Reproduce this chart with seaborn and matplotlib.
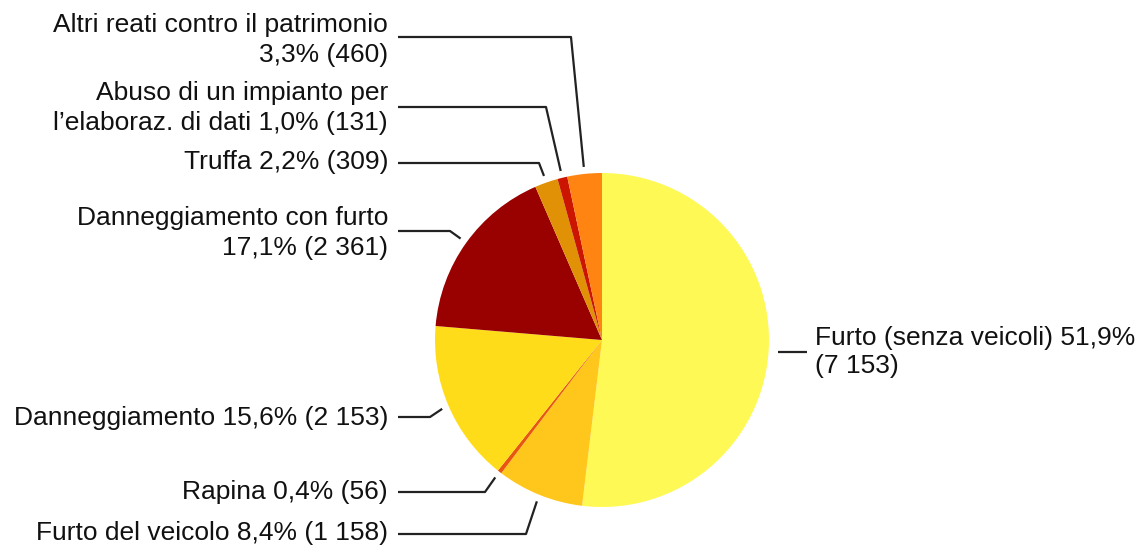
import matplotlib

matplotlib.use("Agg")
import matplotlib.pyplot as plt
import numpy as np
import seaborn as sns

# dati (conteggi e percentuali come nel grafico)
categories = [
    "Furto (senza veicoli)",
    "Furto del veicolo",
    "Rapina",
    "Danneggiamento",
    "Danneggiamento con furto",
    "Truffa",
    "Abuso di un impianto per\nl'elaboraz. di dati",
    "Altri reati contro il patrimonio",
]
counts = [7153, 1158, 56, 2153, 2361, 309, 131, 460]
percent_labels = ["51,9%", "8,4%", "0,4%", "15,6%", "17,1%", "2,2%", "1,0%", "3,3%"]
count_labels = ["7 153", "1 158", "56", "2 153", "2 361", "309", "131", "460"]
label_texts = [
    "Furto (senza veicoli) 51,9%\n(7 153)",
    "Furto del veicolo 8,4% (1 158)",
    "Rapina 0,4% (56)",
    "Danneggiamento 15,6% (2 153)",
    "Danneggiamento con furto\n17,1% (2 361)",
    "Truffa 2,2% (309)",
    "Abuso di un impianto per\nl\u2019elaboraz. di dati 1,0% (131)",
    "Altri reati contro il patrimonio\n3,3% (460)",
]
colors = ["#FFF955", "#FFC61C", "#E8550E", "#FFDC1A", "#990000", "#E19106", "#CC1500", "#FF8412"]

sns.set_theme(style="white")
plt.rcParams["font.family"] = ["Liberation Sans", "DejaVu Sans"]

W, H = 1144, 549
fig = plt.figure(figsize=(W / 100, H / 100), dpi=100)
ax = fig.add_axes([0, 0, 1, 1])


def py(y):
    # converte y in pixel (dall'alto) in coordinate dati
    return H - y


cx, cy, R = 602, py(340), 167
wedges, _ = ax.pie(
    counts,
    colors=colors,
    startangle=90,
    counterclock=False,
    center=(cx, cy),
    radius=R,
    wedgeprops=dict(linewidth=0),
    frame=True,
)
ax.set_xlim(0, W)
ax.set_ylim(0, H)
ax.set_aspect("equal")
ax.axis("off")

# posizione etichette: (y linea, x gomito, y testo, lato)
layout = [
    (352, 778, 352, "right"),
    (534, 526, 533, "left"),
    (492, 485, 492, "left"),
    (417, 430, 418, "left"),
    (231, 450, 233, "left"),
    (163, 539, 162, "left"),
    (107, 546, 108, "left"),
    (37, 571, 40, "left"),
]

for w, text, (ly, ex, ty, side) in zip(wedges, label_texts, layout):
    ang = np.deg2rad((w.theta1 + w.theta2) / 2)
    ax_x = cx + 1.042 * R * np.cos(ang)
    ax_y = cy + 1.042 * R * np.sin(ang)
    if side == "left":
        xs = [ax_x, ex, 398]
        ys = [ax_y, py(ly), py(ly)]
        ax.plot(xs, ys, color="#222222", lw=1.6, solid_capstyle="butt")
        ax.text(388, py(ty), text, ha="right", va="center", multialignment="right",
                fontsize=19, color="#111111", linespacing=1.36)
    else:
        # a destra solo un trattino orizzontale
        ax.plot([ex, 807], [py(ly), py(ly)], color="#222222", lw=1.6, solid_capstyle="butt")
        ax.text(815, py(ty), text, ha="left", va="center", multialignment="left",
                fontsize=19, color="#111111", linespacing=1.2)

fig.savefig("out.png", dpi=100, facecolor="white")
